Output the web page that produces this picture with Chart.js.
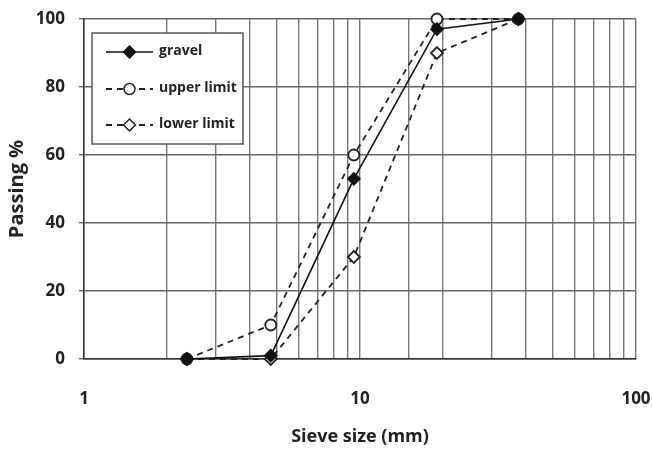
<!DOCTYPE html>
<html>
<head>
<meta charset="utf-8">
<script src="https://cdn.jsdelivr.net/npm/chart.js@4.4.1/dist/chart.umd.min.js"></script>
<style>
  html, body { margin: 0; padding: 0; background: #fff; }
  #wrap { width: 652px; height: 450px; }
</style>
</head>
<body>
<div id="wrap"><canvas id="grading" width="652" height="450"></canvas></div>
<script>
const sieveSizes = [2.36, 4.75, 9.5, 19, 37.5];
const gravel = [0, 1, 53, 97, 100];
const upperLimit = [0, 10, 60, 100, 100];
const lowerLimit = [0, 0, 30, 90, 100];
const yTicks = [0, 20, 40, 60, 80, 100];
const xLabels = [1, 10, 100];

const FONT = "'Open Sans', 'DejaVu Sans', sans-serif";

function toPoints(values) {
  return sieveSizes.map((s, i) => ({ x: s, y: values[i] }));
}

// legend box drawn inside the plot, like the original
const insideLegend = {
  id: "insideLegend",
  afterDatasetsDraw: (chart) => {
    const { ctx } = chart;
    const box = { x: 92, y: 33, w: 151, h: 111 };

    ctx.save();
    ctx.fillStyle = "#fff";
    ctx.fillRect(box.x, box.y, box.w, box.h);
    ctx.strokeStyle = "#555";
    ctx.lineWidth = 1.5;
    ctx.strokeRect(box.x, box.y, box.w, box.h);

    const rows = [52, 89, 125];
    chart.data.datasets.forEach((ds, i) => {
      const y = rows[i];
      ctx.beginPath();
      ctx.setLineDash(ds.borderDash || []);
      ctx.strokeStyle = ds.borderColor;
      ctx.lineWidth = ds.borderWidth;
      ctx.moveTo(106, y);
      ctx.lineTo(153, y);
      ctx.stroke();
      ctx.setLineDash([]);

      ctx.fillStyle = ds.pointBackgroundColor;
      ctx.strokeStyle = ds.pointBorderColor;
      ctx.lineWidth = 1.5;
      Chart.helpers.drawPoint(ctx, {
        pointStyle: ds.pointStyle,
        radius: ds.pointRadius,
        rotation: 0,
        borderWidth: 1.5,
      }, 129.5, y);

      ctx.fillStyle = "#222";
      ctx.font = "700 14px " + FONT;
      ctx.textBaseline = "middle";
      ctx.fillText(ds.label, 159, y - 1);
    });
    ctx.restore();
  },
};

new Chart(document.getElementById("grading"), {
  type: "line",
  data: {
    datasets: [
      {
        label: "gravel",
        data: toPoints(gravel),
        borderColor: "#111",
        borderWidth: 1.6,
        pointStyle: "rectRot",
        pointRadius: 6,
        pointBackgroundColor: "#111",
        pointBorderColor: "#111",
        clip: false,
        order: 0,
      },
      {
        label: "upper limit",
        data: toPoints(upperLimit),
        borderColor: "#222",
        borderWidth: 1.8,
        borderDash: [6, 5],
        pointStyle: "circle",
        pointRadius: 5.5,
        pointBackgroundColor: "#fff",
        pointBorderColor: "#222",
        clip: false,
        order: 1,
      },
      {
        label: "lower limit",
        data: toPoints(lowerLimit),
        borderColor: "#222",
        borderWidth: 1.8,
        borderDash: [6, 5],
        pointStyle: "rectRot",
        pointRadius: 6,
        pointBackgroundColor: "#fff",
        pointBorderColor: "#222",
        clip: false,
        order: 2,
      },
    ],
  },
  plugins: [insideLegend],
  options: {
    responsive: false,
    animation: false,
    layout: { padding: { left: 0, right: 16, top: 19, bottom: 0 } },
    plugins: {
      legend: { display: false },
      tooltip: { enabled: false },
    },
    elements: {
      line: { tension: 0 },
      point: { borderWidth: 1.5 },
    },
    scales: {
      x: {
        type: "logarithmic",
        min: 1,
        max: 100,
        border: { display: true, color: "#333", width: 1.5 },
        grid: {
          color: "#777",
          lineWidth: 1.4,
          drawTicks: false,
        },
        ticks: {
          padding: 30,
          autoSkip: false,
          maxRotation: 0,
          color: "#222",
          font: { family: FONT, size: 17, weight: "700" },
          callback: (value) => (xLabels.includes(value) ? String(value) : ""),
        },
        afterFit: (scale) => {
          scale.height = 91;
          scale.paddingLeft = 0;
          scale.paddingRight = 0;
        },
        title: {
          display: true,
          text: "Sieve size (mm)",
          color: "#222",
          padding: { top: 0, bottom: 2 },
          font: { family: FONT, size: 18, weight: "700" },
        },
      },
      y: {
        min: 0,
        max: 100,
        border: { display: true, color: "#333", width: 1.5 },
        grid: {
          color: "#666",
          lineWidth: 1.4,
          tickLength: 5,
        },
        afterBuildTicks: (scale) => {
          scale.ticks = yTicks.map((v) => ({ value: v }));
        },
        ticks: {
          padding: 14,
          color: "#222",
          font: { family: FONT, size: 17, weight: "700" },
        },
        afterFit: (scale) => {
          scale.width = 84;
          scale.paddingTop = 0;
          scale.paddingBottom = 0;
        },
        title: {
          display: true,
          text: "Passing %",
          color: "#222",
          padding: { top: 5, bottom: 0 },
          font: { family: FONT, size: 20, weight: "700" },
        },
      },
    },
  },
});
</script>
</body>
</html>
